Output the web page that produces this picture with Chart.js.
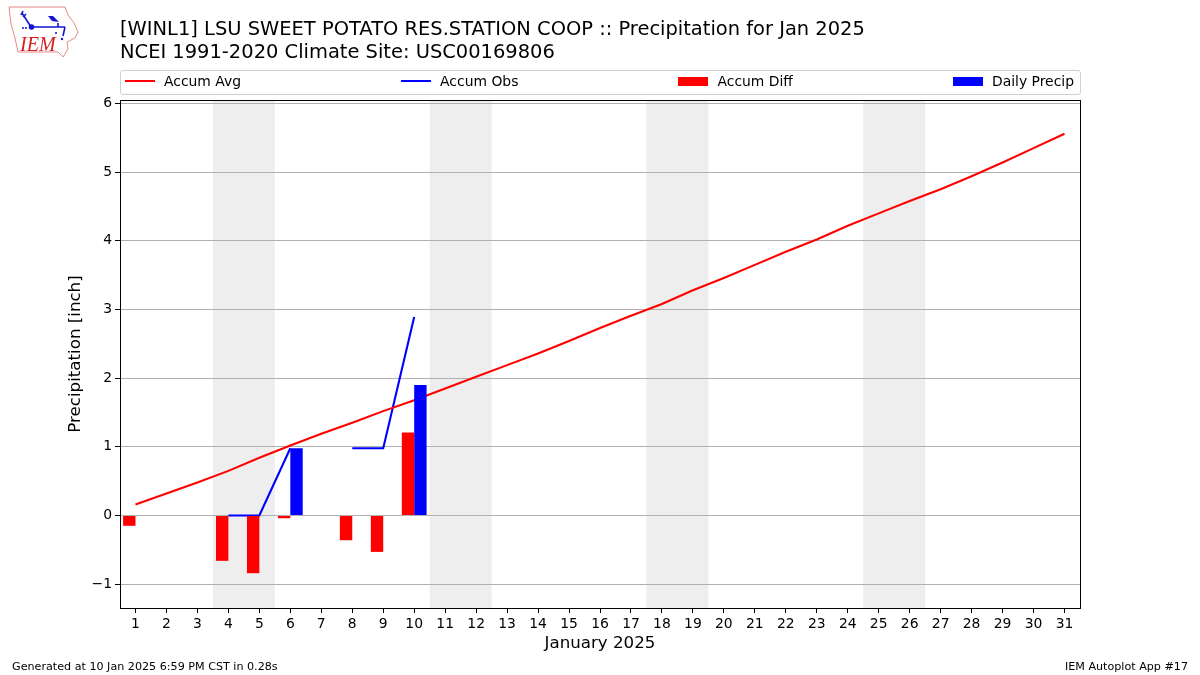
<!DOCTYPE html>
<html>
<head>
<meta charset="utf-8">
<script src="https://cdn.jsdelivr.net/npm/chart.js@4/dist/chart.umd.min.js"></script>
<style>
  body { margin: 0; background: #fff; font-family: "DejaVu Sans", sans-serif; color: #000; }
  #wrap { position: relative; width: 1200px; height: 675px; overflow: hidden; }
  #chart { position: absolute; left: 0; top: 0; }
  #title { position: absolute; left: 120px; top: 18px; font-size: 19.47px; line-height: 22.8px; white-space: nowrap; }
  #legend { position: absolute; left: 120px; top: 70px; width: 961px; height: 25px; box-sizing: border-box;
    border: 1px solid #d0d0d0; border-radius: 3px; display: flex; justify-content: space-between;
    align-items: center; padding: 0 6px 3px 4px; font-size: 13.9px; }
  .item { display: flex; align-items: center; }
  .swatch { width: 30px; margin-right: 9px; }
  .foot { position: absolute; top: 660px; font-size: 11.15px; white-space: nowrap; }
  #logo { position: absolute; left: 8px; top: 6px; }
</style>
</head>
<body>
<div id="wrap">
  <canvas id="chart" width="1200" height="675"></canvas>
  <svg id="logo" width="72" height="54" viewBox="0 0 72 54">
    <path d="M1 1 L57 1 L60 9 L66 17 L70 26 L67 32 L59 36 L60 43 L55 51 L50 46 L10 46 L7 32 L3 18 Z"
      fill="none" stroke="#e58a8a" stroke-width="1"/>
    <path d="M14 7 L23 21 M15 5 L13 9 M18 8 L15 11 M23 21 L57 21 M50 17 L50 21 M57 21 L55 30" fill="none" stroke="#1414d0" stroke-width="1.6"/>
    <path d="M40 10 L45 10 L51 16 L44 15 Z" fill="#1414d0"/>
    <circle cx="23.5" cy="21" r="2.8" fill="#1414d0"/>
    <circle cx="15" cy="22" r="1" fill="#1414d0"/>
    <circle cx="18" cy="22" r="1" fill="#1414d0"/>
    <circle cx="48" cy="27" r="1" fill="#1414d0"/>
    <circle cx="54" cy="33" r="1.2" fill="#1414d0"/>
    <text x="12" y="45" font-family="Liberation Serif" font-style="italic" font-size="20" fill="#d42020">IEM</text>
  </svg>
  <div id="title">[WINL1] LSU SWEET POTATO RES.STATION COOP :: Precipitation for Jan 2025<br>NCEI 1991-2020 Climate Site: USC00169806</div>
  <div id="legend"></div>
  <div class="foot" style="left:12px">Generated at 10 Jan 2025 6:59 PM CST in 0.28s</div>
  <div class="foot" style="right:12px">IEM Autoplot App #17</div>
</div>
<script>
const days = ["1","2","3","4","5","6","7","8","9","10","11","12","13","14","15","16",
  "17","18","19","20","21","22","23","24","25","26","27","28","29","30","31"];
const accumAvg = [0.16,0.32,0.48,0.65,0.84,1.02,1.19,1.35,1.52,1.68,1.85,2.02,2.19,2.36,2.54,2.73,
  2.91,3.08,3.28,3.46,3.65,3.84,4.02,4.22,4.40,4.58,4.75,4.94,5.14,5.35,5.56];
const accumObs = [null,null,null,0,0,0.98,null,0.98,0.98,2.89];
const accumDiff = [-0.15,null,null,-0.66,-0.84,-0.04,null,-0.36,-0.53,1.21];
const dailyPrecip = [null,null,null,0,0,0.98,null,0,0,1.9];
const weekends = [["4","5"],["11","12"],["18","19"],["25","26"]];
const yTicks = [-1,0,1,2,3,4,5,6];

const tickFont = { family: "DejaVu Sans", size: 13.9 };
const labelFont = { family: "DejaVu Sans", size: 16.67 };

// grey weekend bands go under the grid, black frame goes over everything
const framePlugin = {
  id: "frame",
  beforeDraw(chart) {
    const { ctx, chartArea, scales } = chart;
    const halfDay = (scales.x.getPixelForValue(1) - scales.x.getPixelForValue(0)) / 2;
    ctx.save();
    ctx.fillStyle = "#eeeeee";
    weekends.forEach(([first, last]) => {
      const left = scales.x.getPixelForValue(days.indexOf(first)) - halfDay;
      const right = scales.x.getPixelForValue(days.indexOf(last)) + halfDay;
      ctx.fillRect(left, chartArea.top, right - left, chartArea.bottom - chartArea.top);
    });
    ctx.restore();
  },
  afterDraw(chart) {
    const { ctx, chartArea } = chart;
    ctx.save();
    ctx.strokeStyle = "#000";
    ctx.lineWidth = 1;
    ctx.strokeRect(chartArea.left + 0.5, chartArea.top + 0.5,
      chartArea.right - chartArea.left, chartArea.bottom - chartArea.top);
    ctx.restore();
  },
};

const ctx = document.getElementById("chart").getContext("2d");
new Chart(ctx, {
  data: {
    labels: days,
    datasets: [
      { type: "line", label: "Accum Avg", data: accumAvg, borderColor: "#ff0000", borderWidth: 2.1,
        pointRadius: 0, tension: 0, order: 2 },
      { type: "line", label: "Accum Obs", data: accumObs, borderColor: "#0000ff", borderWidth: 2.1,
        pointRadius: 0, tension: 0, spanGaps: false, order: 2 },
      { type: "bar", label: "Accum Diff", data: accumDiff, backgroundColor: "#ff0000",
        categoryPercentage: 0.8, barPercentage: 1, order: 1 },
      { type: "bar", label: "Daily Precip", data: dailyPrecip, backgroundColor: "#0000ff",
        categoryPercentage: 0.8, barPercentage: 1, order: 1 },
    ],
  },
  options: {
    responsive: false,
    animation: false,
    layout: { padding: { left: 66, top: 100, right: 120, bottom: 21 } },
    plugins: { legend: { display: false }, title: { display: false }, tooltip: { enabled: false } },
    scales: {
      x: {
        type: "category",
        offset: true,
        grid: { drawOnChartArea: false, tickLength: 5, tickColor: "#000", offset: false },
        border: { display: false },
        ticks: { color: "#000", font: tickFont, padding: 3, autoSkip: false, maxRotation: 0 },
        title: { display: true, text: "January 2025", color: "#000", font: labelFont, padding: { top: 4, bottom: 0 } },
        afterFit(scale) { scale.height = 46; },
      },
      y: {
        type: "linear",
        bounds: "data",
        min: -1.347,
        max: 6.051,
        afterBuildTicks(scale) { scale.ticks = yTicks.map((value) => ({ value })); },
        grid: { color: "#b0b0b0", lineWidth: 1, tickLength: 5, tickColor: "#000" },
        border: { display: false },
        ticks: {
          color: "#000",
          font: tickFont,
          padding: 3,
          callback: (value) => String(value).replace("-", "\u2212"),
        },
        title: { display: true, text: "Precipitation [inch]", color: "#000", font: labelFont, padding: 0 },
        afterFit(scale) { scale.width = 54; },
      },
    },
  },
  plugins: [framePlugin],
});

// legend row is spread over the full axes width, so it lives outside the canvas
const legendItems = [
  { name: "Accum Avg", color: "#ff0000", height: 2 },
  { name: "Accum Obs", color: "#0000ff", height: 2 },
  { name: "Accum Diff", color: "#ff0000", height: 9 },
  { name: "Daily Precip", color: "#0000ff", height: 9 },
];
const legend = document.getElementById("legend");
legendItems.forEach((entry) => {
  const item = document.createElement("div");
  item.className = "item";
  const swatch = document.createElement("div");
  swatch.className = "swatch";
  swatch.style.height = entry.height + "px";
  swatch.style.background = entry.color;
  const text = document.createElement("span");
  text.textContent = entry.name;
  item.append(swatch, text);
  legend.append(item);
});
</script>
</body>
</html>
